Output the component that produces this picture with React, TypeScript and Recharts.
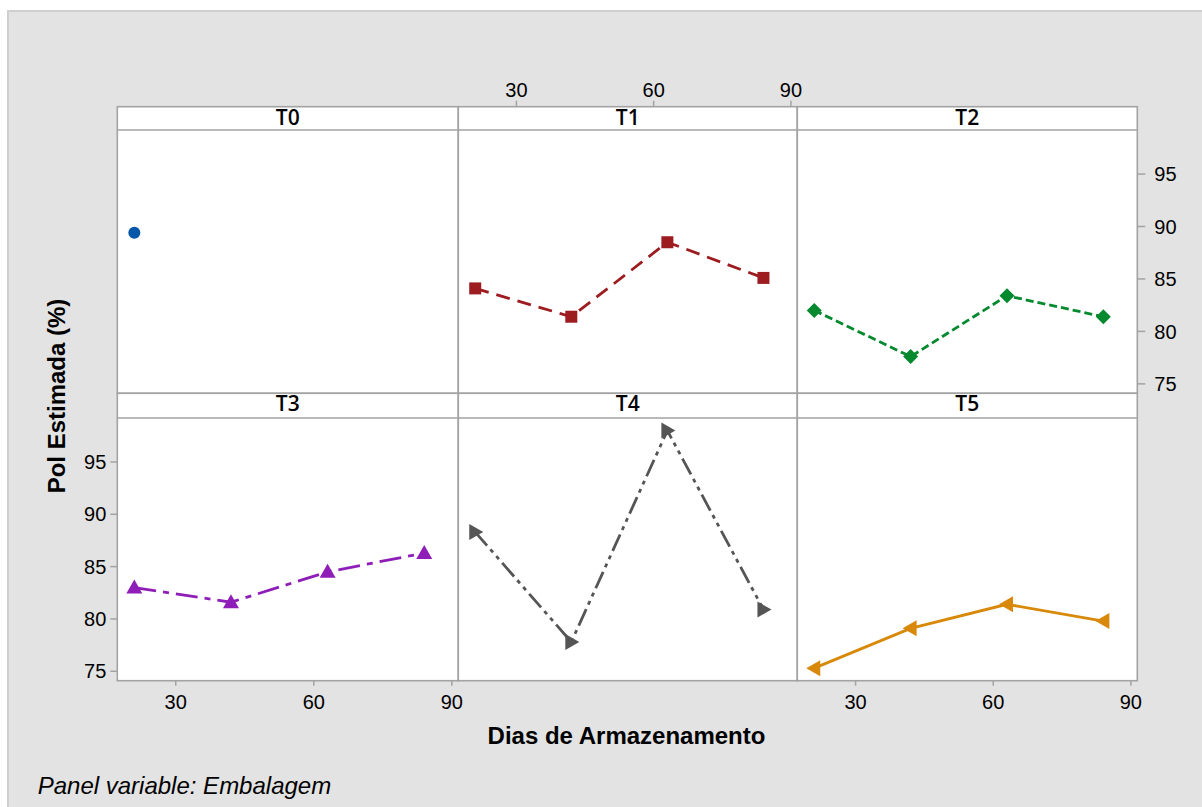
import React from 'react';
import { LineChart, Line, XAxis, YAxis } from 'recharts';

// Storage days (x) and estimated Pol (%) per packaging treatment
const days = [21, 42, 63, 84];
const t0 = [89.4];
const t1 = [84.1, 81.4, 88.5, 85.1];
const t2 = [82.0, 77.6, 83.4, 81.4];
const t3 = [83.0, 81.6, 84.5, 86.3];
const t4 = [88.3, 77.8, 98.0, 80.9];
const t5 = [75.3, 79.1, 81.4, 79.8];

const xTicks = [30, 60, 90];
const yTicks = [75, 80, 85, 90, 95];
const xDomain: [number, number] = [17.3, 91.4];
const yDomain: [number, number] = [74.1, 99.2];

const W = 1202;
const H = 807;
const FONT = '"Liberation Sans", Arial, sans-serif';
const STRIP_FONT = '"Open Sans", "Liberation Sans", Arial, sans-serif';
const FRAME = '#a3a3a3';

// Panel grid geometry
const cols = [117.3, 458.3, 797.3, 1137.3];
const rows = [
  { strip: 106.7, top: 130, bottom: 393.3 },
  { strip: 393.3, top: 418, bottom: 680.7 },
];
const STRIP_H = rows[0].top - rows[0].strip;

const YW = 50;
const XH = 30;

type ShapeKind = 'circle' | 'square' | 'diamond' | 'triUp' | 'triRight' | 'triLeft';

const marker = (kind: ShapeKind, color: string) => (props: any) => {
  const { cx, cy, index } = props;
  if (cx == null || cy == null) return <g key={`m-${index}`} />;
  const k = `m-${index}`;
  switch (kind) {
    case 'circle':
      return <circle key={k} cx={cx} cy={cy} r={6} fill={color} />;
    case 'square':
      return <rect key={k} x={cx - 6} y={cy - 6} width={12} height={12} fill={color} />;
    case 'diamond':
      return (
        <polygon key={k} fill={color}
          points={`${cx},${cy - 7.5} ${cx + 7.5},${cy} ${cx},${cy + 7.5} ${cx - 7.5},${cy}`} />
      );
    case 'triUp':
      return (
        <polygon key={k} fill={color}
          points={`${cx},${cy - 8} ${cx + 8},${cy + 6} ${cx - 8},${cy + 6}`} />
      );
    case 'triRight':
      return (
        <polygon key={k} fill={color}
          points={`${cx + 8},${cy} ${cx - 6},${cy - 8} ${cx - 6},${cy + 8}`} />
      );
    case 'triLeft':
    default:
      return (
        <polygon key={k} fill={color}
          points={`${cx - 8},${cy} ${cx + 6},${cy - 8} ${cx + 6},${cy + 8}`} />
      );
  }
};

// Top scale sits above the strip, so its ticks are lifted by the strip height
const TopTick = (props: any) => {
  const { x, payload, index } = props;
  const yAxisTop = rows[0].strip;
  return (
    <g key={`tt-${index}`}>
      <line x1={x} x2={x} y1={yAxisTop} y2={yAxisTop - 6} stroke={FRAME} strokeWidth={1.5} />
      <text x={x} y={yAxisTop - 10} textAnchor="middle" fontFamily={FONT} fontSize={20} fill="#000">
        {payload.value}
      </text>
    </g>
  );
};

interface PanelProps {
  values: number[];
  color: string;
  dash?: string;
  shape: ShapeKind;
  col: number;
  row: number;
  left?: boolean;
  right?: boolean;
  top?: boolean;
  bottom?: boolean;
}

const tickText = { fill: '#000', fontSize: 20, fontFamily: FONT };
const tickLine = { stroke: FRAME, strokeWidth: 1.5 };

function Panel({ values, color, dash, shape, col, row, left, right, top, bottom }: PanelProps) {
  const data = values.map((v, i) => ({ x: days[i], y: v }));
  const margin = {
    left: cols[col] - (left ? YW : 0),
    right: W - cols[col + 1] - (right ? YW : 0),
    top: rows[row].top - (top ? XH : 0),
    bottom: H - rows[row].bottom - (bottom ? XH : 0),
  };
  return (
    <div style={{ position: 'absolute', left: 0, top: 0, pointerEvents: 'none' }}>
      <LineChart width={W} height={H} data={data} margin={margin}>
        {top ? (
          <XAxis type="number" dataKey="x" domain={xDomain} ticks={xTicks} allowDataOverflow
            orientation="top" height={XH} axisLine={false} tickLine={false}
            tick={<TopTick />} />
        ) : bottom ? (
          <XAxis type="number" dataKey="x" domain={xDomain} ticks={xTicks} allowDataOverflow
            orientation="bottom" height={XH} axisLine={false} tickLine={tickLine}
            tickSize={5} tickMargin={9} tick={tickText} />
        ) : (
          <XAxis type="number" dataKey="x" domain={xDomain} allowDataOverflow hide />
        )}
        {left ? (
          <YAxis type="number" domain={yDomain} ticks={yTicks} allowDataOverflow
            orientation="left" width={YW} axisLine={false} tickLine={tickLine}
            tickSize={7} tickMargin={4} tick={tickText} />
        ) : right ? (
          <YAxis type="number" domain={yDomain} ticks={yTicks} allowDataOverflow
            orientation="right" width={YW} axisLine={false} tickLine={tickLine}
            tickSize={8} tickMargin={9} tick={tickText} />
        ) : (
          <YAxis type="number" domain={yDomain} allowDataOverflow hide />
        )}
        <Line type="linear" dataKey="y" stroke={color} strokeWidth={2.8}
          strokeDasharray={dash} dot={marker(shape, color)} activeDot={false}
          isAnimationActive={false} />
      </LineChart>
    </div>
  );
}

const stripNames = [['T0', 'T1', 'T2'], ['T3', 'T4', 'T5']];

function Frames() {
  return (
    <svg width={W} height={H} style={{ position: 'absolute', left: 0, top: 0 }}>
      {rows.map((r, ri) =>
        [0, 1, 2].map((ci) => {
          const x0 = cols[ci];
          const x1 = cols[ci + 1];
          return (
            <g key={`${ri}-${ci}`}>
              <rect x={x0} y={r.strip} width={x1 - x0} height={r.bottom - r.strip}
                fill="#fff" stroke={FRAME} strokeWidth={1.6} />
              <line x1={x0} x2={x1} y1={r.top} y2={r.top} stroke={FRAME} strokeWidth={1.6} />
              <text x={(x0 + x1) / 2} y={r.strip + STRIP_H - 5.5} textAnchor="middle"
                fontFamily={STRIP_FONT} fontWeight={600} fontSize={21} fill="#000">
                {stripNames[ri][ci]}
              </text>
            </g>
          );
        })
      )}
      <text transform="translate(65,396) rotate(-90)" textAnchor="middle"
        fontFamily={FONT} fontSize={24} fontWeight="bold" fill="#000">
        Pol Estimada (%)
      </text>
      <text x={626.5} y={744} textAnchor="middle" fontFamily={FONT} fontSize={24}
        fontWeight="bold" fill="#000">
        Dias de Armazenamento
      </text>
      <text x={37.7} y={794} fontFamily={FONT} fontSize={24} fontStyle="italic" fill="#000">
        Panel variable: Embalagem
      </text>
    </svg>
  );
}

export default function App() {
  return (
    <div style={{ position: 'absolute', left: 0, top: 0, width: W, height: H, overflow: 'hidden', background: '#fff' }}>
      <div style={{
        position: 'absolute', left: 7, top: 10, width: W - 7, height: H - 10,
        background: '#e3e3e3', borderTop: '2px solid #cfcfcf', borderLeft: '2px solid #cfcfcf',
        boxSizing: 'border-box',
      }} />
      <Frames />
      <Panel values={t0} color="#0457a8" shape="circle" col={0} row={0} />
      <Panel values={t1} color="#9c1c20" shape="square" dash="14 8" col={1} row={0} top />
      <Panel values={t2} color="#05892f" shape="diamond" dash="8 4" col={2} row={0} right />
      <Panel values={t3} color="#8f1db8" shape="triUp" dash="22 7 6 7" col={0} row={1} left bottom />
      <Panel values={t4} color="#555555" shape="triRight" dash="18 5 4 5 4 5" col={1} row={1} />
      <Panel values={t5} color="#d8890a" shape="triLeft" col={2} row={1} bottom />
    </div>
  );
}
